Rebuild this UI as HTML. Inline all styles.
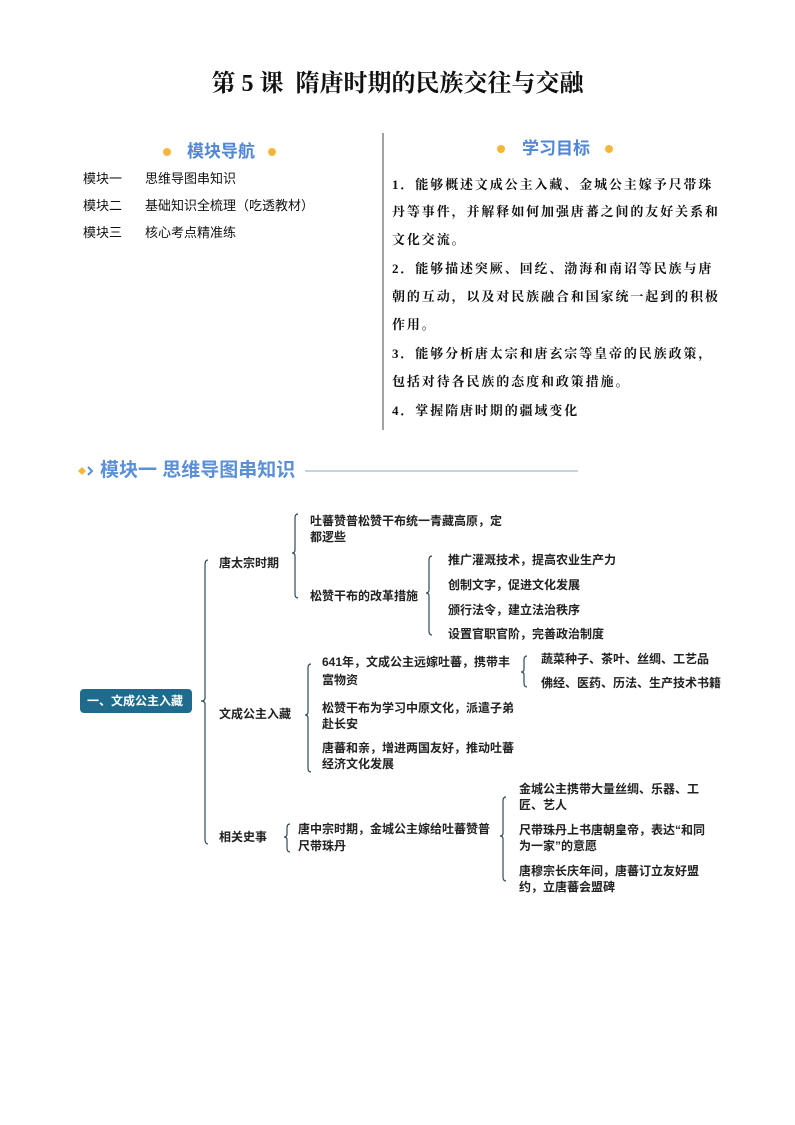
<!DOCTYPE html>
<html><head><meta charset="utf-8"><style>
body{margin:0;background:#fff;}
#p{position:relative;width:795px;height:1125px;overflow:hidden;font-family:"Liberation Sans","Noto Sans CJK SC",sans-serif;color:#111;}
.a{position:absolute;white-space:nowrap;line-height:1;}
.t{font-size:13px;}
.o{font-family:"Liberation Serif","Noto Serif CJK SC",serif;font-weight:bold;font-size:13px;letter-spacing:1.9px;}
.m{font-size:12px;font-weight:bold;color:#222;}
.h{font-size:17px;font-weight:bold;color:#4f86d6;}
</style></head><body><div id="p">
<div class="a" style="left:0;width:795px;text-align:center;top:72px;font-size:24px;font-weight:bold;font-family:'Liberation Serif','Noto Serif CJK SC',serif;">第 5 课&nbsp; 隋唐时期的民族交往与交融</div>

<svg class="a" style="left:0;top:0" width="795" height="1125">
<defs><linearGradient id="g1" x1="0" x2="1"><stop offset="0" stop-color="#fff"/><stop offset="1" stop-color="#9db8e4"/></linearGradient>
<linearGradient id="g2" x1="0" x2="1"><stop offset="0" stop-color="#9db8e4"/><stop offset="1" stop-color="#fff"/></linearGradient></defs>
<line x1="95" y1="152" x2="164" y2="152" stroke="url(#g1)" stroke-width="1.5"/>
<circle cx="167" cy="152" r="4" fill="#f5b73b"/>
<circle cx="272" cy="152" r="4" fill="#f5b73b"/>
<line x1="275" y1="152" x2="355" y2="152" stroke="url(#g2)" stroke-width="1.5"/>
<line x1="425" y1="149" x2="498" y2="149" stroke="url(#g1)" stroke-width="1.5"/>
<circle cx="501" cy="149" r="4" fill="#f5b73b"/>
<circle cx="609" cy="149" r="4" fill="#f5b73b"/>
<line x1="612" y1="149" x2="690" y2="149" stroke="url(#g2)" stroke-width="1.5"/>
<line x1="383" y1="133" x2="383" y2="430" stroke="#444" stroke-width="1"/>
<path d="M82 467 l4 4 l-4 4 l-4 -4z" fill="#f5b73b"/>
<path d="M88 467 l4 4 l-4 4" fill="none" stroke="#5b8fd8" stroke-width="2"/>
<line x1="305" y1="471" x2="578" y2="471" stroke="#8aa5c8" stroke-width="1"/>
<rect x="80" y="689" width="112" height="24" rx="4" fill="#1f6b8e"/>
<g fill="none" stroke="#2f4a5a" stroke-width="1.2">
<path d="M208 560 q-3 0 -3 5 v133 q0 3 -4 3 q4 0 4 3 v135 q0 5 3 5"/>
<path d="M298 514 q-3 0 -3 4 v32 q0 3 -3 3 q3 0 3 3 v38 q0 4 3 4"/>
<path d="M432 556 q-3 0 -3 4 v30 q0 3 -3 3 q3 0 3 3 v35 q0 4 3 4"/>
<path d="M311 664 q-3 0 -3 4 v44 q0 3 -3 3 q3 0 3 3 v50 q0 4 3 4"/>
<path d="M527 656 q-3 0 -3 4 v9 q0 3 -3 3 q3 0 3 3 v8 q0 4 3 4"/>
<path d="M290 824 q-3 0 -3 4 v6 q0 3 -3 3 q3 0 3 3 v8 q0 4 3 4"/>
<path d="M506 797 q-3 0 -3 4 v32 q0 3 -3 3 q3 0 3 3 v38 q0 4 3 4"/>
</g>
</svg>

<div class="a h" style="left:187px;top:143px;">模块导航</div>
<div class="a h" style="left:522px;top:140px;">学习目标</div>
<div class="a t" style="left:83px;top:172px;">模块一</div><div class="a t" style="left:145px;top:172px;">思维导图串知识</div>
<div class="a t" style="left:83px;top:199px;">模块二</div><div class="a t" style="left:145px;top:199px;">基础知识全梳理（吃透教材）</div>
<div class="a t" style="left:83px;top:226px;">模块三</div><div class="a t" style="left:145px;top:226px;">核心考点精准练</div>

<div class="a o" style="left:392px;top:178px;">1．能够概述文成公主入藏、金城公主嫁予尺带珠</div>
<div class="a o" style="left:392px;top:205px;">丹等事件，并解释如何加强唐蕃之间的友好关系和</div>
<div class="a o" style="left:392px;top:233px;">文化交流。</div>
<div class="a o" style="left:392px;top:262px;">2．能够描述突厥、回纥、渤海和南诏等民族与唐</div>
<div class="a o" style="left:392px;top:290px;">朝的互动，以及对民族融合和国家统一起到的积极</div>
<div class="a o" style="left:392px;top:318px;">作用。</div>
<div class="a o" style="left:392px;top:347px;">3．能够分析唐太宗和唐玄宗等皇帝的民族政策，</div>
<div class="a o" style="left:392px;top:375px;">包括对待各民族的态度和政策措施。</div>
<div class="a o" style="left:392px;top:404px;">4．掌握隋唐时期的疆域变化</div>

<div class="a" style="left:100px;top:461px;font-size:19px;font-weight:bold;color:#5b8fd8;">模块一 思维导图串知识</div>

<div class="a m" style="left:87px;top:695px;color:#fff;">一、文成公主入藏</div>
<div class="a m" style="left:219px;top:557px;">唐太宗时期</div>
<div class="a m" style="left:310px;top:515px;">吐蕃赞普松赞干布统一青藏高原，定</div>
<div class="a m" style="left:310px;top:531px;">都逻些</div>
<div class="a m" style="left:310px;top:590px;">松赞干布的改革措施</div>
<div class="a m" style="left:448px;top:554px;">推广灌溉技术，提高农业生产力</div>
<div class="a m" style="left:448px;top:579px;">创制文字，促进文化发展</div>
<div class="a m" style="left:448px;top:604px;">颁行法令，建立法治秩序</div>
<div class="a m" style="left:448px;top:628px;">设置官职官阶，完善政治制度</div>
<div class="a m" style="left:219px;top:708px;">文成公主入藏</div>
<div class="a m" style="left:322px;top:656px;">641年，文成公主远嫁吐蕃，携带丰</div>
<div class="a m" style="left:322px;top:674px;">富物资</div>
<div class="a m" style="left:541px;top:653px;">蔬菜种子、茶叶、丝绸、工艺品</div>
<div class="a m" style="left:541px;top:677px;">佛经、医药、历法、生产技术书籍</div>
<div class="a m" style="left:322px;top:702px;">松赞干布为学习中原文化，派遣子弟</div>
<div class="a m" style="left:322px;top:718px;">赴长安</div>
<div class="a m" style="left:322px;top:742px;">唐蕃和亲，增进两国友好，推动吐蕃</div>
<div class="a m" style="left:322px;top:758px;">经济文化发展</div>
<div class="a m" style="left:219px;top:831px;">相关史事</div>
<div class="a m" style="left:298px;top:823px;">唐中宗时期，金城公主嫁给吐蕃赞普</div>
<div class="a m" style="left:298px;top:840px;">尺带珠丹</div>
<div class="a m" style="left:519px;top:783px;">金城公主携带大量丝绸、乐器、工</div>
<div class="a m" style="left:519px;top:799px;">匠、艺人</div>
<div class="a m" style="left:519px;top:824px;">尺带珠丹上书唐朝皇帝，表达“和同</div>
<div class="a m" style="left:519px;top:840px;">为一家”的意愿</div>
<div class="a m" style="left:519px;top:865px;">唐穆宗长庆年间，唐蕃订立友好盟</div>
<div class="a m" style="left:519px;top:881px;">约，立唐蕃会盟碑</div>
</div></body></html>
